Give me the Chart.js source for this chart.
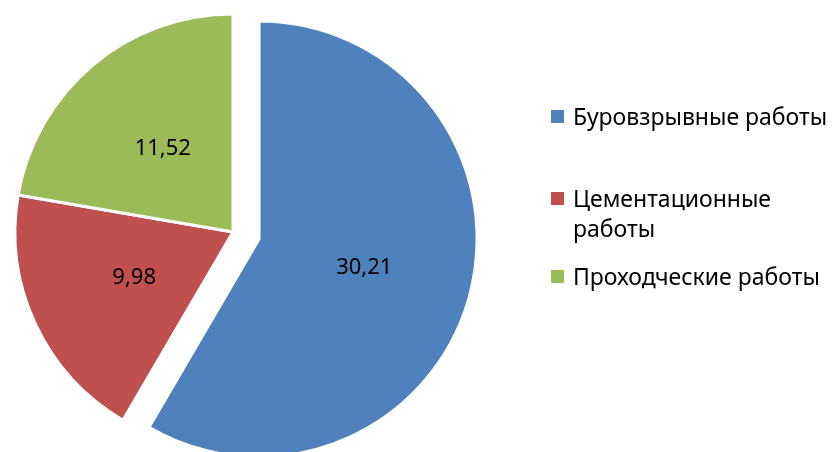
<!DOCTYPE html>
<html lang="ru">
<head>
<meta charset="utf-8">
<title>Pie</title>
<script src="https://cdn.jsdelivr.net/npm/chart.js@4"></script>
<style>
    html, body { margin: 0; padding: 0; background: #fff; }
    #wrap { position: relative; width: 832px; height: 452px; overflow: hidden; }
    #legend {
        position: absolute; left: 551px; top: 101px;
        font-family: "Noto Sans", "Liberation Sans", sans-serif; font-size: 23px; line-height: 30px; color: #000;
    }
    .item { position: relative; padding-left: 22px; width: 270px; white-space: nowrap; }
    .item .box { position: absolute; left: 0; top: 9px; width: 13px; height: 13px; }
    .item:nth-child(2) { margin-top: 52px; }
    .item:nth-child(3) { margin-top: 18px; }
</style>
</head>
<body>
<div id="wrap">
    <canvas id="pieChart"></canvas>
    <div id="legend"></div>
</div>
<script>
// данные диаграммы
const labels = ['Буровзрывные работы', 'Цементационные работы', 'Проходческие работы'];
const legendLines = [['Буровзрывные работы'], ['Цементационные', 'работы'], ['Проходческие работы']];
const values = [30.21, 9.98, 11.52];
const colors = ['#4F81BD', '#C0504D', '#9BBB59'];
const explode = [27, 0, 0]; // вынос сектора, px

// сдвигаем вынесенный сектор вдоль его биссектрисы
const explodePlugin = {
    id: 'explode',
    afterDatasetUpdate(chart, args) {
        const meta = chart.getDatasetMeta(args.index);
        meta.data.forEach((arc, i) => {
            const e = explode[i] || 0;
            if (!e) return;
            const mid = (arc.startAngle + arc.endAngle) / 2;
            arc.x += Math.cos(mid) * e;
            arc.y += Math.sin(mid) * e;
        });
    }
};

// подписи значений внутри секторов
const valueLabels = {
    id: 'valueLabels',
    afterDatasetsDraw(chart) {
        const ctx = chart.ctx;
        const meta = chart.getDatasetMeta(0);
        ctx.save();
        ctx.font = '22px "Noto Sans", "Liberation Sans", sans-serif';
        ctx.fillStyle = '#000';
        ctx.textAlign = 'center';
        ctx.textBaseline = 'middle';
        meta.data.forEach((arc, i) => {
            const mid = (arc.startAngle + arc.endAngle) / 2;
            const r = arc.outerRadius * 0.5;
            const text = values[i].toFixed(2).replace('.', ',');
            ctx.fillText(text, arc.x + Math.cos(mid) * r, arc.y + Math.sin(mid) * r);
        });
        ctx.restore();
    }
};

const canvas = document.getElementById('pieChart');
canvas.width = 832;
canvas.height = 452;

new Chart(canvas.getContext('2d'), {
    type: 'pie',
    data: {
        labels: labels,
        datasets: [{
            data: values,
            backgroundColor: colors,
            borderColor: '#fff',
            borderWidth: 3,
            clip: false
        }]
    },
    options: {
        responsive: false,
        animation: false,
        radius: 218,
        layout: { padding: { left: 0, right: 366, top: 12, bottom: 0 } },
        plugins: {
            legend: { display: false },
            tooltip: { enabled: false }
        }
    },
    plugins: [explodePlugin, valueLabels]
});

// легенда справа
const legend = document.getElementById('legend');
legendLines.forEach((lines, i) => {
    const item = document.createElement('div');
    item.className = 'item';
    const box = document.createElement('span');
    box.className = 'box';
    box.style.background = colors[i];
    item.appendChild(box);
    lines.forEach(line => {
        const div = document.createElement('div');
        div.textContent = line;
        item.appendChild(div);
    });
    legend.appendChild(item);
});
</script>
</body>
</html>
